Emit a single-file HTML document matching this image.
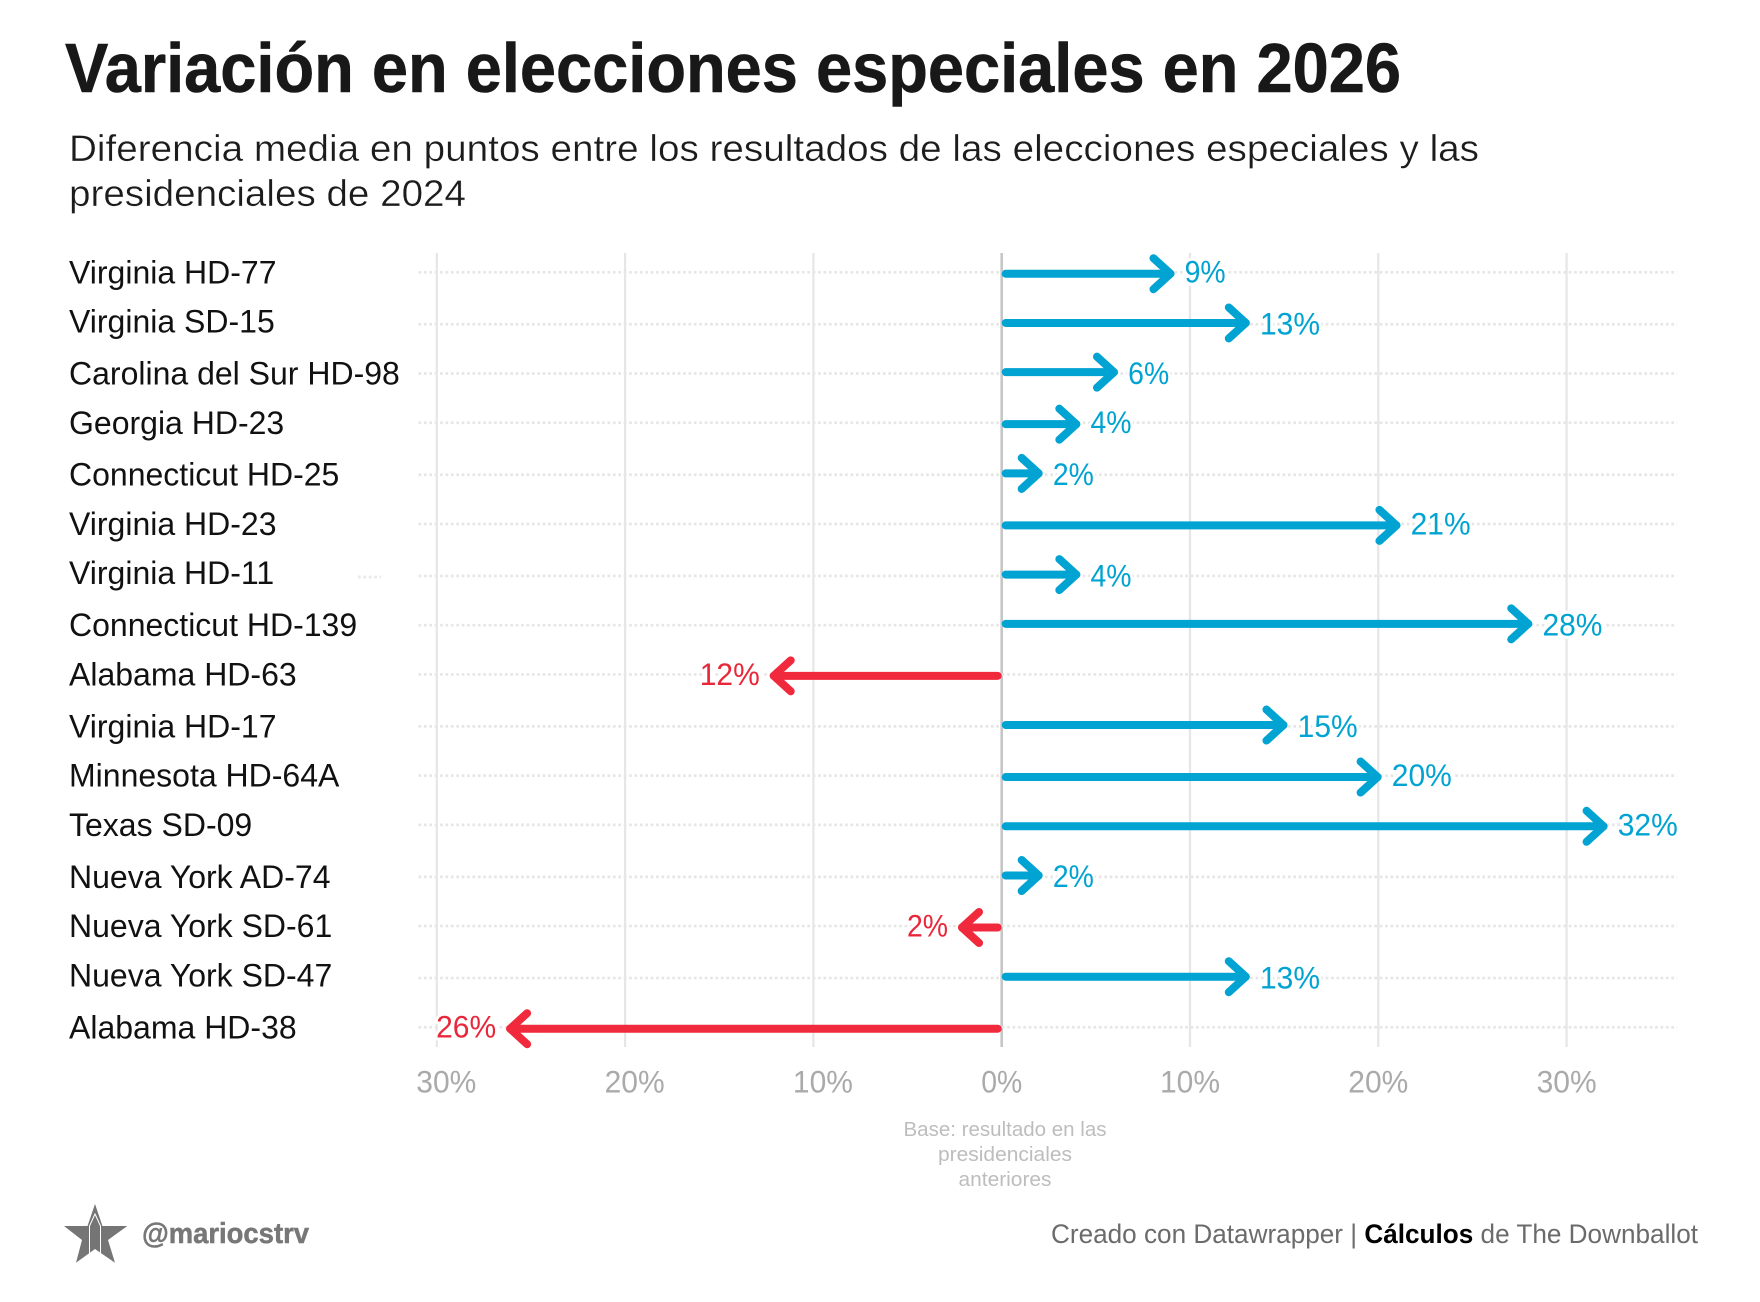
<!DOCTYPE html>
<html lang="es">
<head>
<meta charset="utf-8">
<title>Variación en elecciones especiales en 2026</title>
<style>
  html, body { margin: 0; padding: 0; background: #fff; }
  body { width: 1760px; height: 1302px; overflow: hidden; }
  svg { display: block; font-family: "Liberation Sans", sans-serif; }
  .halo { paint-order: stroke; stroke: #fff; stroke-width: 6px; stroke-linejoin: round; }
</style>
</head>
<body>
<svg id="chart" xmlns="http://www.w3.org/2000/svg" width="1760" height="1302" viewBox="0 0 1760 1302">
  <rect x="0" y="0" width="1760" height="1302" fill="#fff"/>
  <text x="65" y="92" font-size="70" font-weight="700" fill="#181818" stroke="#181818" stroke-width="0.6" textLength="1336" lengthAdjust="spacingAndGlyphs">Variación en elecciones especiales en 2026</text>
  <text x="69" y="161" font-size="37" fill="#1c1c1c" stroke="#fff" stroke-width="0.35" textLength="1410" lengthAdjust="spacingAndGlyphs">Diferencia media en puntos entre los resultados de las elecciones especiales y las</text>
  <text x="69" y="206" font-size="37" fill="#1c1c1c" stroke="#fff" stroke-width="0.35" textLength="397" lengthAdjust="spacingAndGlyphs">presidenciales de 2024</text>

  <g id="grid"></g>
  <g id="rows"></g>
  <line x1="358" x2="381" y1="577" y2="577" stroke="#e8e8e8" stroke-width="2.7" stroke-dasharray="2.7 2.7"/>
  <g id="labels"></g>
  <g id="arrows"></g>
  <g id="values"></g>
  <g id="ticks"></g>

  <g font-size="20.5" fill="#bdbdbd" text-anchor="middle">
    <text x="1005" y="1136" textLength="203" lengthAdjust="spacingAndGlyphs">Base: resultado en las</text>
    <text x="1005" y="1161" textLength="134" lengthAdjust="spacingAndGlyphs">presidenciales</text>
    <text x="1005" y="1186" textLength="93" lengthAdjust="spacingAndGlyphs">anteriores</text>
  </g>

  <g>
    <polygon fill="#757575" points="95,1204 102.5,1226 127.3,1226 108,1240 115,1262.7 95,1249 76,1262.7 82,1240 64,1226 87.5,1226"/>
    <path d="M89.5,1256 V1226 L95,1214 L100.5,1226 V1256" fill="none" stroke="#fff" stroke-width="1"/>
  </g>
  <text x="142" y="1243" font-size="29" font-weight="700" fill="#777" stroke="#777" stroke-width="0.5" textLength="167" lengthAdjust="spacingAndGlyphs">@mariocstrv</text>
  <text x="1051" y="1243" font-size="27" fill="#6b6b6b" textLength="647" lengthAdjust="spacingAndGlyphs">Creado con Datawrapper | <tspan font-weight="700" fill="#000">Cálculos</tspan> de The Downballot</text>
</svg>

<script>
const categories = [
  "Virginia HD-77", "Virginia SD-15", "Carolina del Sur HD-98", "Georgia HD-23",
  "Connecticut HD-25", "Virginia HD-23", "Virginia HD-11", "Connecticut HD-139",
  "Alabama HD-63", "Virginia HD-17", "Minnesota HD-64A", "Texas SD-09",
  "Nueva York AD-74", "Nueva York SD-61", "Nueva York SD-47", "Alabama HD-38"
];
const seriesValues = [9, 13, 6, 4, 2, 21, 4, 28, -12, 15, 20, 32, 2, -2, 13, -26];
const tickValues = [-30, -20, -10, 0, 10, 20, 30];

const SVG_NS = "http://www.w3.org/2000/svg";
const BLUE = "#00a3d1";
const RED = "#f02a3c";
const SNAP = 2.7355;

function xScale(v) { return 1001.7 + v * 18.83; }
function yBar(i) { return 273.7 + SNAP * Math.floor(18.4 * i + 1e-6); }
function yDot(i) { return 272.3 + SNAP * Math.round(18.395 * i + 0.14); }
function yLabel(i) { return 283.3 + SNAP * Math.round(18.39 * i); }
function pctText(v) { return Math.abs(v) + "%"; }
function pctWidth(v) { return String(Math.abs(v)).length * 19 + 22; }

function make(tag, attrs, parent) {
  const el = document.createElementNS(SVG_NS, tag);
  for (const k in attrs) el.setAttribute(k, attrs[k]);
  parent.appendChild(el);
  return el;
}

const gridG = document.getElementById("grid");
const rowsG = document.getElementById("rows");
const labelsG = document.getElementById("labels");
const arrowsG = document.getElementById("arrows");
const valuesG = document.getElementById("values");
const ticksG = document.getElementById("ticks");

tickValues.forEach(function (t) {
  const line = make("line", {
    x1: xScale(t), x2: xScale(t), y1: 253, y2: 1047,
    stroke: t === 0 ? "#c6c6c6" : "#e6e6e6",
    "stroke-width": t === 0 ? 2.6 : 2.2
  }, gridG);
  
  

  const label = make("text", {
    x: xScale(t) + (t < 0 ? 9.5 : 0), y: 1092.6,
    "font-size": 31.5, fill: "#aaaaaa", "text-anchor": "middle",
    textLength: pctWidth(t), lengthAdjust: "spacingAndGlyphs"
  }, ticksG);
  
  
  label.textContent = pctText(t);
});

categories.forEach(function (name, i) {
  const dots = make("line", {
    x1: 418.5, x2: 1677, y1: yDot(i), y2: yDot(i),
    stroke: "#e6e6e6", "stroke-width": 2.7, "stroke-dasharray": "2.7 2.7"
  }, rowsG);
  
  

  const label = make("text", {
    x: 69, y: yLabel(i), "font-size": 32, fill: "#111"
  }, labelsG);
  
  
  label.textContent = name;
});

seriesValues.forEach(function (v, i) {
  const dir = v >= 0 ? 1 : -1;
  const color = v >= 0 ? BLUE : RED;
  const y = yBar(i);
  const x0 = xScale(0) + dir * 4;
  const tip = v >= 0 ? xScale(v) - 0.7 : xScale(v) - 2;

  const shaft = make("line", {
    x1: x0, x2: tip, y1: y, y2: y,
    stroke: color, "stroke-width": 8, "stroke-linecap": "round"
  }, arrowsG);
  
  

  const head = make("polyline", {
    points: (tip - dir * 17) + "," + (y - 15.5) + " " + tip + "," + y + " " + (tip - dir * 17) + "," + (y + 15.5),
    fill: "none", stroke: color, "stroke-width": 8,
    "stroke-linecap": "round", "stroke-linejoin": "round"
  }, arrowsG);
  
  

  const txt = make("text", {
    x: xScale(v) + dir * (v >= 0 ? 13.5 : 16), y: yDot(i) + 10.4,
    "font-size": 31.5, fill: v >= 0 ? "#00a3d1" : "#e8283a",
    "text-anchor": v >= 0 ? "start" : "end",
    textLength: pctWidth(v), lengthAdjust: "spacingAndGlyphs",
    class: "halo"
  }, valuesG);
  
  
  txt.textContent = pctText(v);
});
</script>
</body>
</html>
